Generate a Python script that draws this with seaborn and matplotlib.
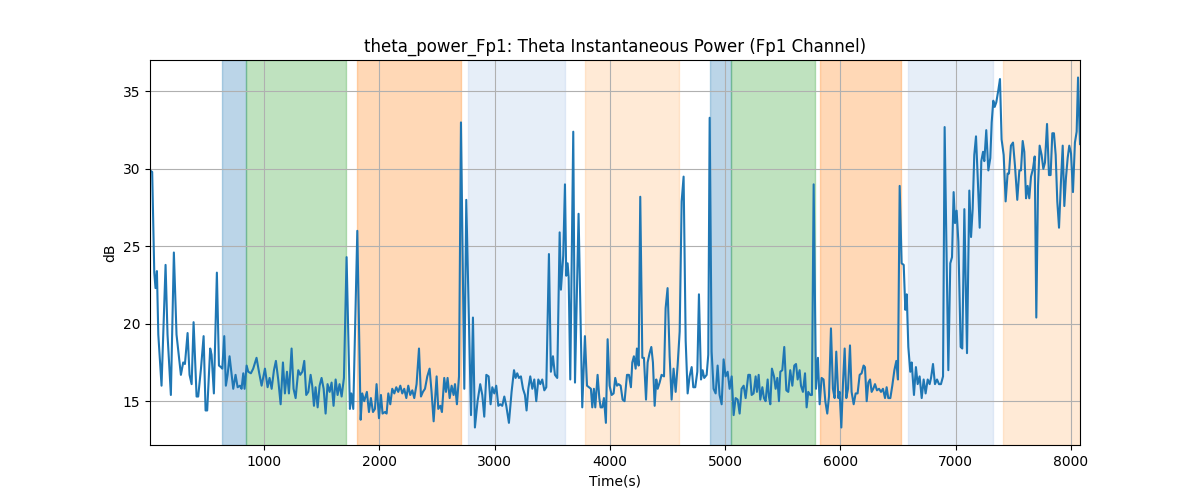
import pandas as pd
import seaborn as sns
import matplotlib.pyplot as plt

# time stamps (s) and theta power (dB)
time_s = [
    12, 31, 49, 60, 72, 84, 112, 147, 164, 193,
    219, 242, 280, 300, 315, 338, 355, 373, 390, 416,
    430, 454, 477, 494, 508, 534, 546, 566, 592, 610,
    627, 639, 656, 670, 685, 702, 720, 734, 754, 772,
    792, 806, 821, 832, 850, 864, 887, 907, 936, 957,
    980,
    1009, 1032, 1049, 1067, 1087, 1104, 1124, 1145, 1165, 1182,
    1200, 1217, 1240, 1257, 1275, 1298, 1315, 1333, 1350, 1367,
    1385, 1405, 1419, 1434, 1448, 1466, 1483, 1500, 1518, 1535,
    1552, 1570, 1587, 1604, 1622, 1639, 1656, 1674, 1694, 1717,
    1746, 1758, 1775, 1810, 1839, 1853, 1870, 1893, 1911, 1928,
    1946, 1963, 1977, 1998, 2015, 2029,
    2050, 2064, 2079, 2096, 2113, 2131, 2148, 2165, 2183, 2200,
    2217, 2235, 2252, 2269, 2287, 2304, 2324, 2345, 2362, 2379,
    2397, 2417, 2437, 2454, 2472, 2498, 2512, 2530, 2544, 2564,
    2579, 2593, 2611, 2628, 2645, 2657, 2674, 2692, 2709, 2738,
    2755, 2796, 2813, 2830, 2853, 2876, 2894, 2911, 2929, 2949,
    2966, 2981, 2998, 3015, 3033, 3050, 3067, 3085, 3102, 3125,
    3148, 3169,
    3183, 3197, 3212, 3229, 3247, 3264, 3278, 3293, 3310, 3328,
    3345, 3362, 3380, 3397, 3414, 3432, 3449, 3472, 3489, 3507,
    3524, 3544, 3565, 3576, 3596, 3611, 3622, 3634, 3643, 3657,
    3683, 3698, 3729, 3761, 3784, 3802, 3819, 3836, 3848, 3862,
    3874, 3894, 3909, 3920, 3935, 3949, 3966, 3981, 3998, 4016,
    4033, 4047, 4062, 4076, 4094, 4111, 4128,
    4149, 4166, 4183, 4195, 4209, 4224, 4235, 4250, 4264, 4282,
    4296, 4314, 4328, 4345, 4360, 4374, 4389, 4403, 4415, 4432,
    4449, 4470, 4484, 4501, 4519, 4536, 4553, 4571, 4588, 4606,
    4623, 4640, 4658, 4675, 4692, 4710, 4724, 4741, 4759, 4773,
    4791, 4805, 4819, 4840, 4854, 4866, 4883, 4900, 4918, 4935,
    4952, 4970, 4987, 5004, 5022, 5039, 5057, 5074, 5091, 5109,
    5126, 5143, 5161, 5178,
    5201, 5216, 5230, 5247, 5265, 5276, 5291, 5305, 5323, 5337,
    5351, 5369, 5380, 5392, 5406, 5424, 5438, 5453, 5467, 5479,
    5496, 5513, 5531, 5548, 5565, 5583, 5600, 5615, 5629, 5646,
    5658, 5675, 5693, 5707, 5721, 5739, 5753, 5768, 5788, 5805,
    5820, 5837, 5854, 5869, 5886, 5901, 5918, 5935, 5950, 5964,
    5982, 5993, 6008, 6022, 6037, 6051, 6066, 6083, 6097, 6115,
    6132, 6149, 6167, 6184, 6201,
    6213, 6228, 6242, 6257, 6271, 6285, 6300, 6317, 6335, 6352,
    6369, 6387, 6401, 6415, 6433, 6450, 6468, 6485, 6499, 6514,
    6531, 6549, 6563, 6575, 6589, 6606, 6618, 6638, 6655, 6670,
    6687, 6705, 6722, 6739, 6757, 6774, 6786, 6803, 6820, 6838,
    6855, 6872, 6890, 6904, 6936, 6953, 6968, 6982, 6994, 7008,
    7023, 7043, 7057, 7075, 7098, 7118, 7133, 7147, 7161, 7176,
    7190, 7208, 7222, 7237, 7248,
    7265, 7283, 7300, 7312, 7326, 7338, 7352, 7370, 7384, 7398,
    7416, 7433, 7450, 7462, 7479, 7497, 7514, 7534, 7552, 7566,
    7581, 7595, 7610, 7624, 7638, 7653, 7670, 7685, 7699, 7714,
    7728, 7745, 7760, 7774, 7792, 7809, 7823, 7838, 7852, 7867,
    7881, 7896, 7913, 7928, 7942, 7956, 7971, 7985, 8000, 8017,
    8034, 8049, 8061, 8078,
]

power_db = [
    29.9, 29.8, 23.3, 22.3, 23.4, 19.3, 16.0, 23.8, 19.3, 15.4,
    24.6, 19.3, 16.7, 17.5, 17.4, 19.4, 16.7, 16.1, 20.1, 15.3,
    15.3, 17.1, 19.2, 14.4, 14.4, 18.4, 18.0, 15.5, 23.3, 17.3,
    17.2, 17.1, 19.2, 16.0, 16.7, 17.9, 16.7, 15.8, 16.7, 15.9,
    16.0, 15.8, 16.8, 15.8, 17.3, 16.9, 16.8, 17.1, 17.8, 16.9,
    16.0,
    17.1, 15.9, 16.5, 15.8, 17.0, 17.6, 16.4, 14.8, 17.5, 15.5,
    16.9, 15.5, 18.4, 15.8, 15.2, 17.0, 16.7, 16.9, 17.6, 15.4,
    15.6, 16.7, 16.0, 14.7, 15.9, 14.6, 16.0, 16.5, 15.8, 14.2,
    16.1, 15.6, 16.2, 14.7, 16.4, 15.4, 16.1, 15.3, 16.5, 24.3,
    14.5, 15.5, 14.5, 26.0, 13.8, 15.5, 15.0, 15.6, 14.3, 15.2,
    14.3, 14.5, 16.1, 13.9, 15.4, 14.2,
    14.3, 14.2, 15.5, 14.8, 15.8, 15.5, 15.9, 15.6, 16.0, 15.5,
    15.8, 15.2, 16.0, 15.4, 15.7, 15.2, 16.1, 18.4, 15.3, 15.6,
    15.8, 16.6, 17.1, 15.6, 13.7, 16.6, 14.5, 14.7, 14.3, 16.5,
    15.6, 16.5, 15.2, 16.0, 15.4, 16.1, 14.8, 16.6, 33.0, 15.8,
    28.0, 14.1, 20.4, 13.3, 15.0, 16.1, 15.4, 14.0, 16.7, 16.6,
    14.8, 15.9, 15.5, 16.0, 14.7, 14.8, 14.7, 15.3, 14.7, 13.6,
    15.6, 17.0,
    16.5, 16.8, 16.5, 16.6, 15.8, 15.4, 14.4, 15.8, 16.6, 15.8,
    16.4, 15.0, 16.4, 16.1, 16.4, 15.7, 15.9, 24.5, 16.9, 17.9,
    16.7, 16.5, 25.9, 22.2, 24.4, 29.0, 23.1, 23.9, 23.0, 16.4,
    32.4, 16.2, 27.1, 14.6, 19.2, 16.0, 15.9, 15.8, 14.6, 15.8,
    14.6, 16.7, 15.2, 14.6, 14.6, 15.2, 13.6, 19.0, 16.0, 15.4,
    15.5, 16.5, 16.0, 16.1, 16.0, 15.1, 15.0,
    16.7, 16.7, 15.9, 17.5, 17.9, 17.1, 18.4, 17.3, 28.2, 17.8,
    17.8, 15.1, 17.5, 18.1, 18.5, 17.5, 14.7, 16.4, 15.8, 16.2,
    16.7, 16.6, 21.0, 22.3, 17.9, 15.1, 17.1, 15.6, 17.3, 19.5,
    27.9, 29.5, 18.9, 15.5, 16.6, 17.2, 15.9, 15.9, 16.9, 21.9,
    16.4, 17.0, 16.5, 16.7, 18.0, 33.3, 18.2, 15.8, 15.5, 17.3,
    15.4, 14.8, 17.7, 16.6, 16.9, 15.8, 16.6, 14.1, 15.2, 15.1,
    14.2, 15.8, 16.0, 15.2,
    16.7, 16.7, 15.4, 15.5, 16.6, 15.6, 16.7, 15.1, 15.9, 15.2,
    15.0, 16.4, 15.3, 14.8, 17.1, 16.6, 15.8, 16.5, 15.0, 16.9,
    17.0, 18.5, 15.7, 15.6, 17.0, 16.0, 17.3, 17.4, 16.4, 17.0,
    16.0, 15.6, 16.8, 14.6, 15.6, 15.4, 15.4, 29.0, 15.8, 17.8,
    14.8, 16.5, 16.4, 15.0, 14.2, 15.3, 19.7, 15.8, 15.2, 18.2,
    15.2, 15.6, 13.3, 16.1, 18.4, 15.2, 15.8, 18.6, 15.6, 14.8,
    15.5, 15.5, 16.7, 16.8, 17.3,
    17.2, 15.0, 16.2, 16.4, 15.6, 15.8, 16.1, 15.7, 15.8, 15.6,
    15.8, 15.2, 15.9, 15.2, 15.2, 16.0, 17.0, 17.6, 16.4, 28.9,
    23.9, 23.8, 20.9, 21.9, 18.5, 16.9, 17.5, 15.4, 17.2, 16.1,
    16.6, 15.2, 16.4, 15.5, 16.4, 16.1, 16.5, 17.4, 16.1, 16.4,
    16.1, 16.1, 16.6, 32.7, 17.0, 23.9, 24.3, 28.5, 26.5, 27.3,
    25.3, 18.5, 18.4, 27.4, 18.1, 28.6, 25.6, 27.4, 30.9, 32.1,
    29.6, 26.2, 30.5, 31.1, 30.5,
    32.5, 29.9, 30.7, 33.0, 34.4, 34.0, 34.3, 35.1, 35.8, 31.9,
    30.9, 27.9, 29.7, 29.7, 31.5, 31.7, 30.2, 28.0, 29.9, 29.9,
    31.8, 31.1, 28.1, 28.9, 28.1, 29.5, 30.0, 30.8, 20.4, 28.9,
    31.5, 30.9, 30.0, 30.4, 32.9, 29.6, 29.6, 32.3, 32.3, 30.9,
    27.9, 26.2, 29.2, 31.5, 27.6, 29.4, 30.7, 31.5, 31.0, 28.5,
    31.7, 32.4, 35.9, 31.6,
]

# shaded event intervals
span_start = [636, 846, 1806, 2769, 3784, 4871, 5053, 5825, 6585, 7410]
span_end = [846, 1711, 2709, 3608, 4597, 5053, 5779, 6522, 7321, 8078]
span_color = ["#1f77b4", "#2ca02c", "#ff7f0e", "#aec7e8", "#ffbb78",
              "#1f77b4", "#2ca02c", "#ff7f0e", "#aec7e8", "#ffbb78"]

df = pd.DataFrame({"time": time_s, "db": power_db})

fig, ax = plt.subplots(figsize=(12, 5), dpi=100)

for s, e, c in zip(span_start, span_end, span_color):
    ax.axvspan(s, e, color=c, alpha=0.3)

sns.lineplot(data=df, x="time", y="db", color="#1f77b4", linewidth=1.5, ax=ax)

ax.set_xlim(df["time"].min(), df["time"].max())
ax.grid(True)
ax.set_title("theta_power_Fp1: Theta Instantaneous Power (Fp1 Channel)")
ax.set_xlabel("Time(s)")
ax.set_ylabel("dB")

plt.savefig("out.png")
